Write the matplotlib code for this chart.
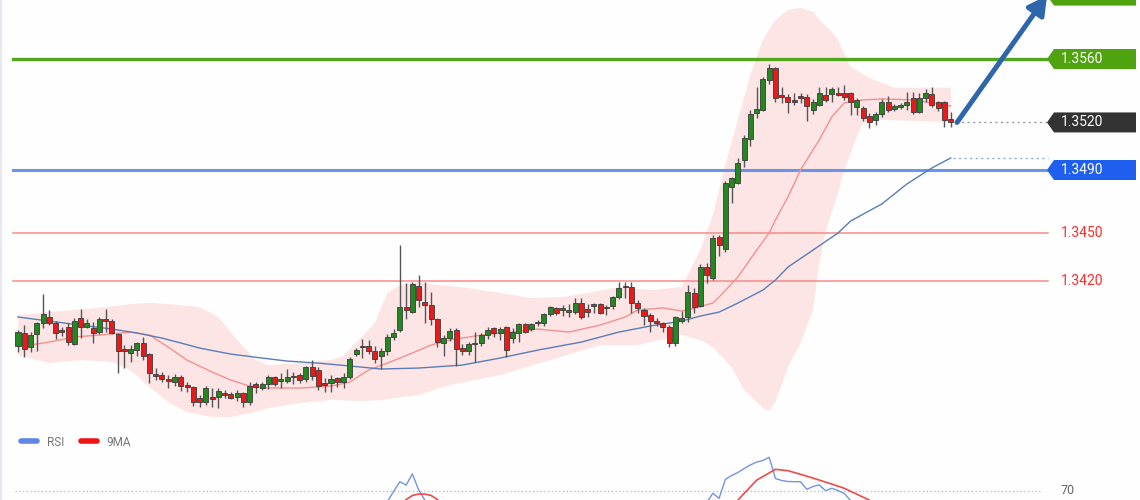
import numpy as np
import matplotlib
matplotlib.use('Agg')
import matplotlib.pyplot as plt
from matplotlib.lines import Line2D
from matplotlib.patches import Polygon
from matplotlib.transforms import blended_transform_factory

plt.rcParams['font.family'] = ['Roboto', 'DejaVu Sans']

# ---- price candles (one per bar) ----
OPEN = [
    1.33790, 1.33872, 1.33783, 1.33865, 1.33935, 1.33973, 1.33935, 1.33891, 1.33910, 1.33802,
    1.33966, 1.33910, 1.33903, 1.33878, 1.33960, 1.33947, 1.33865, 1.33771, 1.33746, 1.33764,
    1.33809, 1.33739, 1.33613, 1.33607, 1.33581, 1.33563, 1.33594, 1.33544, 1.33531, 1.33462,
    1.33436, 1.33468, 1.33468, 1.33493, 1.33487, 1.33468, 1.33493, 1.33436, 1.33550, 1.33525,
    1.33550, 1.33594, 1.33569, 1.33569, 1.33594, 1.33607, 1.33581, 1.33657, 1.33638, 1.33556,
    1.33556, 1.33588, 1.33563, 1.33594, 1.33739, 1.33790, 1.33790, 1.33758, 1.33727, 1.33758,
    1.33847, 1.33891, 1.34036, 1.34004, 1.34168, 1.34067, 1.34048, 1.33960, 1.33809, 1.33840,
    1.33891, 1.33777, 1.33758, 1.33802, 1.33809, 1.33859, 1.33903, 1.33872, 1.33910, 1.33840,
    1.33872, 1.33929, 1.33897, 1.33941, 1.33935, 1.33992, 1.34030, 1.34017, 1.34004, 1.34004,
    1.34061, 1.34023, 1.34042, 1.34055, 1.34030, 1.34042, 1.34099, 1.34168, 1.34162, 1.34061,
    1.34017, 1.33985, 1.33947, 1.33935, 1.33910, 1.33809, 1.33947, 1.33973, 1.34124, 1.34042,
    1.34288, 1.34219, 1.34478, 1.34402, 1.34793, 1.34818, 1.34963, 1.35096, 1.35260, 1.35279,
    1.35468, 1.35544, 1.35367, 1.35361, 1.35342, 1.35361, 1.35361, 1.35279, 1.35310, 1.35374,
    1.35380, 1.35386, 1.35386, 1.35386, 1.35298, 1.35292, 1.35241, 1.35216, 1.35254, 1.35329,
    1.35285, 1.35298, 1.35310, 1.35355, 1.35266, 1.35355, 1.35380, 1.35329, 1.35329, 1.35222,
]
HIGH = [
    1.33891, 1.33922, 1.33878, 1.33941, 1.34118, 1.34017, 1.33947, 1.33910, 1.33935, 1.33966,
    1.34023, 1.33960, 1.33941, 1.33973, 1.34023, 1.33960, 1.33872, 1.33796, 1.33796, 1.33815,
    1.33847, 1.33746, 1.33651, 1.33626, 1.33607, 1.33613, 1.33607, 1.33563, 1.33537, 1.33481,
    1.33537, 1.33525, 1.33525, 1.33512, 1.33499, 1.33512, 1.33499, 1.33563, 1.33563, 1.33563,
    1.33607, 1.33600, 1.33619, 1.33645, 1.33626, 1.33619, 1.33664, 1.33701, 1.33657, 1.33588,
    1.33607, 1.33594, 1.33619, 1.33720, 1.33777, 1.33834, 1.33828, 1.33790, 1.33777, 1.33865,
    1.33897, 1.34427, 1.34187, 1.34194, 1.34238, 1.34194, 1.34130, 1.33966, 1.33859, 1.33903,
    1.33903, 1.33802, 1.33815, 1.33878, 1.33872, 1.33910, 1.33910, 1.33910, 1.33916, 1.33903,
    1.33935, 1.33935, 1.33935, 1.33954, 1.33998, 1.34042, 1.34036, 1.34048, 1.34055, 1.34093,
    1.34093, 1.34055, 1.34061, 1.34061, 1.34048, 1.34105, 1.34194, 1.34194, 1.34194, 1.34080,
    1.34030, 1.33998, 1.33966, 1.33941, 1.33922, 1.33979, 1.34011, 1.34175, 1.34156, 1.34307,
    1.34313, 1.34490, 1.34490, 1.34831, 1.34856, 1.34976, 1.35121, 1.35279, 1.35424, 1.35487,
    1.35569, 1.35550, 1.35424, 1.35380, 1.35386, 1.35386, 1.35380, 1.35348, 1.35424, 1.35424,
    1.35424, 1.35424, 1.35437, 1.35392, 1.35355, 1.35304, 1.35260, 1.35266, 1.35348, 1.35367,
    1.35317, 1.35323, 1.35392, 1.35392, 1.35386, 1.35411, 1.35424, 1.35336, 1.35336, 1.35266,
]
LOW = [
    1.33752, 1.33720, 1.33752, 1.33758, 1.33903, 1.33922, 1.33834, 1.33853, 1.33796, 1.33796,
    1.33840, 1.33903, 1.33809, 1.33865, 1.33878, 1.33865, 1.33619, 1.33651, 1.33689, 1.33727,
    1.33701, 1.33556, 1.33575, 1.33563, 1.33525, 1.33537, 1.33506, 1.33499, 1.33411, 1.33405,
    1.33417, 1.33405, 1.33398, 1.33462, 1.33455, 1.33443, 1.33405, 1.33417, 1.33493, 1.33512,
    1.33518, 1.33537, 1.33525, 1.33556, 1.33550, 1.33556, 1.33563, 1.33575, 1.33512, 1.33499,
    1.33499, 1.33531, 1.33525, 1.33581, 1.33727, 1.33714, 1.33739, 1.33682, 1.33645, 1.33733,
    1.33828, 1.33878, 1.33960, 1.33998, 1.34036, 1.33935, 1.33922, 1.33783, 1.33727, 1.33821,
    1.33664, 1.33733, 1.33733, 1.33689, 1.33790, 1.33834, 1.33847, 1.33828, 1.33720, 1.33809,
    1.33815, 1.33872, 1.33884, 1.33916, 1.33916, 1.33979, 1.33985, 1.33979, 1.33973, 1.33992,
    1.33960, 1.33973, 1.33998, 1.33992, 1.33985, 1.34023, 1.34086, 1.34093, 1.33998, 1.33998,
    1.33922, 1.33878, 1.33916, 1.33878, 1.33783, 1.33790, 1.33935, 1.33941, 1.33998, 1.34036,
    1.34187, 1.34206, 1.34358, 1.34383, 1.34692, 1.34812, 1.34919, 1.35052, 1.35229, 1.35273,
    1.35443, 1.35329, 1.35323, 1.35260, 1.35310, 1.35323, 1.35210, 1.35254, 1.35304, 1.35329,
    1.35329, 1.35367, 1.35342, 1.35248, 1.35248, 1.35210, 1.35165, 1.35184, 1.35235, 1.35266,
    1.35273, 1.35285, 1.35279, 1.35254, 1.35260, 1.35329, 1.35298, 1.35273, 1.35172, 1.35172,
]
CLOSE = [
    1.33878, 1.33771, 1.33859, 1.33935, 1.33992, 1.33935, 1.33872, 1.33878, 1.33815, 1.33947,
    1.33910, 1.33935, 1.33872, 1.33960, 1.33947, 1.33872, 1.33758, 1.33758, 1.33771, 1.33809,
    1.33727, 1.33619, 1.33600, 1.33581, 1.33569, 1.33594, 1.33537, 1.33531, 1.33436, 1.33436,
    1.33525, 1.33455, 1.33506, 1.33481, 1.33462, 1.33493, 1.33436, 1.33537, 1.33531, 1.33550,
    1.33594, 1.33550, 1.33581, 1.33594, 1.33600, 1.33575, 1.33657, 1.33600, 1.33537, 1.33544,
    1.33581, 1.33563, 1.33594, 1.33708, 1.33764, 1.33783, 1.33758, 1.33708, 1.33758, 1.33847,
    1.33872, 1.34036, 1.34017, 1.34181, 1.34080, 1.34048, 1.33960, 1.33815, 1.33840, 1.33884,
    1.33771, 1.33758, 1.33802, 1.33809, 1.33859, 1.33891, 1.33872, 1.33897, 1.33764, 1.33878,
    1.33929, 1.33878, 1.33929, 1.33935, 1.33992, 1.34036, 1.33998, 1.34030, 1.34017, 1.34061,
    1.33973, 1.34004, 1.34055, 1.33998, 1.34036, 1.34099, 1.34156, 1.34162, 1.34061, 1.34030,
    1.33979, 1.33947, 1.33935, 1.33910, 1.33809, 1.33973, 1.33966, 1.34130, 1.34036, 1.34288,
    1.34238, 1.34471, 1.34427, 1.34818, 1.34850, 1.34944, 1.35102, 1.35254, 1.35285, 1.35474,
    1.35544, 1.35355, 1.35361, 1.35329, 1.35329, 1.35355, 1.35304, 1.35329, 1.35386, 1.35342,
    1.35411, 1.35374, 1.35361, 1.35329, 1.35342, 1.35229, 1.35203, 1.35254, 1.35329, 1.35279,
    1.35304, 1.35310, 1.35329, 1.35266, 1.35355, 1.35386, 1.35310, 1.35292, 1.35216, 1.35200,
]

# ---- indicators, read at selected bars ----
MID_IDX = [2, 5, 9, 13, 18, 21, 24, 27, 31, 34, 37, 40, 45, 50, 53, 56, 59, 63, 66, 69,
           74, 79, 83, 88, 93, 97, 99, 103, 106, 107, 111, 112, 115, 118, 120, 121, 123,
           125, 128, 130, 132, 135, 138, 143, 148, 149]
MID_VAL = [1.33796, 1.33815, 1.33847, 1.33859, 1.33878, 1.33859, 1.33783, 1.33701, 1.33626,
           1.33575, 1.33537, 1.33525, 1.33525, 1.33537, 1.33563, 1.33638, 1.33682, 1.33746,
           1.33796, 1.33828, 1.33859, 1.33878, 1.33897, 1.33878, 1.33922, 1.33973, 1.34017,
           1.34030, 1.34011, 1.34017, 1.34061, 1.34099, 1.34225, 1.34395, 1.34503, 1.34585,
           1.34730, 1.34900, 1.35090, 1.35235, 1.35323, 1.35342, 1.35348, 1.35342, 1.35310,
           1.35304]

SLOW_IDX = [0, 5, 10, 15, 19, 23, 26, 29, 34, 39, 43, 48, 53, 58, 64, 71, 77, 83, 90, 96,
            101, 106, 109, 112, 115, 119, 121, 123, 127, 131, 133, 138, 142, 146, 149]
SLOW_VAL = [1.33973, 1.33947, 1.33922, 1.33897, 1.33872, 1.33840, 1.33809, 1.33777, 1.33739,
            1.33714, 1.33695, 1.33682, 1.33664, 1.33645, 1.33651, 1.33670, 1.33714, 1.33764,
            1.33815, 1.33878, 1.33916, 1.33947, 1.33979, 1.34004, 1.34061, 1.34143, 1.34206,
            1.34288, 1.34395, 1.34503, 1.34578, 1.34686, 1.34812, 1.34913, 1.34976]

UP_IDX = [0, 5, 13, 18, 21, 24, 29, 32, 35, 38, 40, 45, 50, 52, 57, 59, 61, 64, 67, 72, 77,
          82, 87, 91, 96, 101, 106, 109, 111, 113, 115, 117, 119, 121, 123, 125, 127, 128,
          130, 131, 133, 136, 138, 140, 149]
UP_VAL = [1.33985, 1.34004, 1.34030, 1.34055, 1.34061, 1.34055, 1.34036, 1.33973, 1.33828,
          1.33701, 1.33670, 1.33682, 1.33701, 1.33727, 1.33935, 1.34124, 1.34175, 1.34194,
          1.34175, 1.34156, 1.34124, 1.34093, 1.34099, 1.34124, 1.34162, 1.34143, 1.34162,
          1.34395, 1.34616, 1.34932, 1.35216, 1.35500, 1.35721, 1.35847, 1.35910, 1.35922,
          1.35897, 1.35847, 1.35771, 1.35721, 1.35550, 1.35481, 1.35449, 1.35418, 1.35418]

LO_IDX = [0, 5, 10, 15, 18, 21, 24, 27, 31, 34, 37, 40, 45, 50, 55, 58, 64, 69, 77, 85, 93,
          99, 106, 109, 111, 114, 116, 119, 120, 121, 123, 125, 127, 128, 129, 130, 131, 132,
          134, 135, 138, 149]
LO_VAL = [1.33733, 1.33682, 1.33701, 1.33689, 1.33638, 1.33531, 1.33436, 1.33373, 1.33342,
          1.33342, 1.33367, 1.33398, 1.33430, 1.33449, 1.33443, 1.33449, 1.33481, 1.33544,
          1.33607, 1.33701, 1.33796, 1.33796, 1.33859, 1.33828, 1.33783, 1.33657, 1.33512,
          1.33398, 1.33380, 1.33436, 1.33657, 1.33809, 1.34017, 1.34313, 1.34509, 1.34635,
          1.34755, 1.34900, 1.35109, 1.35197, 1.35216, 1.35203]

RSI_IDX = [58, 59, 60, 61, 62, 63, 64, 65, 66, 109, 110, 111, 112, 113, 114, 115, 116, 117,
           118, 119, 120, 121, 122, 123, 124, 125, 126, 127, 128, 129, 130, 131, 132, 133, 134]
RSI_VAL = [60, 64.5, 69.5, 74.4, 72.7, 78.3, 70.3, 65.2, 61, 60, 64, 68.6, 66.1, 75.6, 77.5,
           79, 81, 82.8, 84.2, 85, 86.6, 76, 75, 74.5, 74.4, 74.4, 70.6, 72, 72.8, 69.9,
           71.1, 70, 68.5, 65, 62]
RSI_MA_IDX = [61, 62, 63, 64, 65, 66, 67, 68, 113, 115, 118, 121, 123, 126, 130, 132, 136, 138]
RSI_MA_VAL = [61, 65.5, 67.5, 68.2, 68.2, 67.5, 65.5, 62, 60, 65.2, 75.2, 80.6, 79.9, 77.2,
              73.2, 71.1, 65.2, 60]

# ---- levels ----
TARGET = 1.3600
RESIST = 1.3560
CURRENT = 1.3520
SUPPORT = 1.3490
LOWER_LEVELS = [1.3450, 1.3420]

# ---- layout (pixels) ----
W, H = 1140, 500
X0, STEP = 18, 6.26          # first bar centre, bar spacing
PRICE_TOP, PRICE_BOT = 1.359721, 1.332603   # price at y=0 and y=430 px
LINE_L, LINE_R = 13, 1048    # level lines
TAG_L, TAG_R = 1047, 1136

fig = plt.figure(figsize=(W / 100, H / 100), dpi=100)
fig.patch.set_facecolor('#fefefe')

ax = fig.add_axes([0, 70 / H, 1, 430 / H])
ax.set_xlim(-X0 / STEP, (W - X0) / STEP)
ax.set_ylim(PRICE_BOT, PRICE_TOP)
ax.axis('off')
px_price = (PRICE_TOP - PRICE_BOT) / 430

# bollinger band
ax.fill(UP_IDX + LO_IDX[::-1], UP_VAL + LO_VAL[::-1], color='#fde5e5', lw=0, zorder=1)

# level lines
ax.axhline(RESIST, LINE_L / W, LINE_R / W, color='#52a61c', lw=2.4, zorder=2)
ax.axhline(SUPPORT, LINE_L / W, LINE_R / W, color='#6894ec', lw=2.2, zorder=2)
for lv in LOWER_LEVELS:
    ax.axhline(lv, LINE_L / W, LINE_R / W, color='#f58a8a', lw=1.1, zorder=2)

# moving averages
ax.plot(MID_IDX, MID_VAL, color='#f49090', lw=1.0, zorder=2)
ax.plot(SLOW_IDX, SLOW_VAL, color='#5a7db5', lw=1.0, zorder=2)

# candles
o, h, l, c = map(np.array, (OPEN, HIGH, LOW, CLOSE))
x = np.arange(len(o))
up = c >= o
ax.vlines(x, l, h, color='#555555', lw=1.0, zorder=3)
ax.bar(x, np.maximum(np.abs(c - o), 1.4 * px_price), bottom=np.minimum(o, c), width=0.8,
       color=np.where(up, '#22881f', '#e81a1a'), edgecolor='#3a3a3a', linewidth=0.6, zorder=4)

# dotted extensions to the tags
x_end = (LINE_R - X0) / STEP
ax.plot([x[-1] + 0.8, x_end], [CURRENT, CURRENT], color='#999999', lw=1, ls=(0, (1.5, 2.5)), zorder=2)
ax.plot([x[-1] + 0.4, x_end], [SLOW_VAL[-1]] * 2, color='#8fa9dc', lw=1, ls=(0, (1.5, 2.5)), zorder=2)

# projection arrow
ax.annotate('', xy=((TAG_L - X0) / STEP, TARGET), xytext=(x[-1] + 1, CURRENT),
            arrowprops=dict(arrowstyle='-|>,head_length=1.1,head_width=0.6', lw=3.6,
                            color='#2d66ab', shrinkA=0, shrinkB=0),
            annotation_clip=False, zorder=6)

# price tags (the target tag sits mostly above the frame, its text is not visible)
tr = blended_transform_factory(ax.transAxes, ax.transData)
hh = 10 * px_price
for val, col in [(TARGET, '#4ea30f'), (RESIST, '#4ea30f'), (CURRENT, '#333333'), (SUPPORT, '#1f5ff0')]:
    pts = [(TAG_L / W, val), ((TAG_L + 7) / W, val + hh), (TAG_R / W, val + hh),
           (TAG_R / W, val - hh), ((TAG_L + 7) / W, val - hh)]
    ax.add_patch(Polygon(pts, closed=True, transform=tr, facecolor=col, edgecolor='none',
                         clip_on=False, zorder=7))
    if val < PRICE_TOP:
        ax.text(1061 / W, val, f'{val:.4f}', transform=tr, color='white', fontsize=10,
                va='center', ha='left', zorder=8)
for lv in LOWER_LEVELS:
    ax.text(1061 / W, lv, f'{lv:.4f}', transform=tr, color='#ff2b2b', fontsize=10,
            va='center', ha='left')

# ---- RSI panel ----
ax2 = fig.add_axes([0, 0, 1, 70 / H])
ax2.set_xlim(ax.get_xlim())
ax2.set_ylim(65.25, 100.25)
ax2.axis('off')
ax2.axhline(70, 15 / W, 1040 / W, color='#b5b5b5', lw=0.9, ls=(0, (1, 2)))
ax2.text(1068 / W, 70, '70', transform=blended_transform_factory(ax2.transAxes, ax2.transData),
         color='#666666', fontsize=9, va='center', ha='center')
ax2.plot(RSI_IDX, RSI_VAL, color='#7394e4', lw=1.0)
ax2.plot(RSI_MA_IDX, RSI_MA_VAL, color='#f04a4a', lw=1.2)
handles = [Line2D([], [], color='#5f86e2', lw=4, solid_capstyle='round'),
           Line2D([], [], color='#ee1414', lw=4, solid_capstyle='round')]
ax2.legend(handles, ['RSI', '9MA'], loc='center left', bbox_to_anchor=(15 / W, 58 / 70),
           ncol=2, frameon=False, fontsize=8.5, labelcolor='#777777', borderpad=0,
           handlelength=1.4, handletextpad=0.8, columnspacing=1.4)

fig.add_artist(Line2D([0.0006, 0.0006], [0, 1], transform=fig.transFigure, color='#e2e7ee', lw=1.2))

fig.savefig('out.png', dpi=100, facecolor=fig.get_facecolor())
